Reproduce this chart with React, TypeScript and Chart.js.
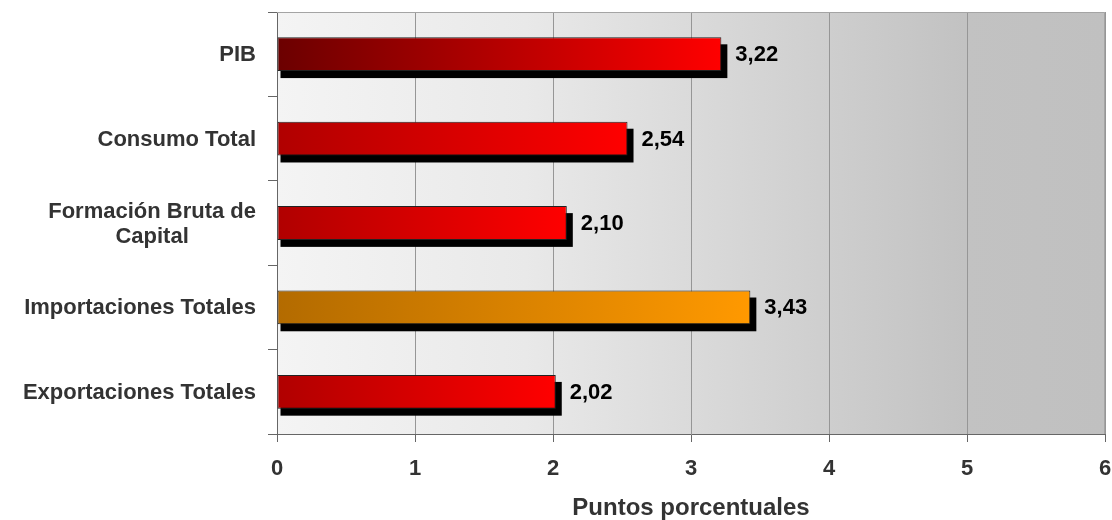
import React, { useEffect, useRef } from "react";
import { Chart, registerables } from "chart.js";

Chart.register(...registerables);

const categories: (string | string[])[] = [
  "PIB",
  "Consumo Total",
  ["Formación Bruta de", "Capital"],
  "Importaciones Totales",
  "Exportaciones Totales",
];
const values = [3.22, 2.54, 2.1, 3.43, 2.02];
const barStartColors = ["#6b0000", "#b00000", "#b00000", "#b36b00", "#b00000"];
const barEndColors = ["#ff0000", "#ff0000", "#ff0000", "#ff9900", "#ff0000"];
const xMin = 0;
const xMax = 6;
const xStep = 1;
const xTitle = "Puntos porcentuales";

const FONT = "'Liberation Sans', Arial, sans-serif";

const fmt = (v: number) => v.toFixed(2).replace(".", ",");

const backgroundPlugin = {
  id: "plotBg",
  beforeDraw(chart: any) {
    const { ctx, chartArea } = chart;
    if (!chartArea) return;
    const g = ctx.createLinearGradient(chartArea.left, 0, chartArea.right, 0);
    g.addColorStop(0, "#f4f4f4");
    g.addColorStop(0.3, "#e9e9e9");
    g.addColorStop(0.6, "#d3d3d3");
    g.addColorStop(0.83, "#c2c2c2");
    g.addColorStop(1, "#c0c0c0");
    ctx.save();
    ctx.fillStyle = g;
    ctx.fillRect(chartArea.left, chartArea.top, chartArea.right - chartArea.left, chartArea.bottom - chartArea.top);
    ctx.restore();
  },
  afterDraw(chart: any) {
    const { ctx, chartArea } = chart;
    ctx.save();
    ctx.strokeStyle = "#a4a4a4";
    ctx.lineWidth = 1;
    ctx.beginPath();
    ctx.moveTo(chartArea.left, chartArea.top + 0.5);
    ctx.lineTo(chartArea.right - 0.5, chartArea.top + 0.5);
    ctx.lineTo(chartArea.right - 0.5, chartArea.bottom);
    ctx.stroke();
    ctx.restore();
  },
};

const shadowPlugin = {
  id: "barShadow",
  beforeDatasetsDraw(chart: any) {
    const { ctx } = chart;
    const meta = chart.getDatasetMeta(0);
    ctx.save();
    ctx.fillStyle = "#000000";
    meta.data.forEach((bar: any) => {
      const { x, y, base, height } = bar.getProps(["x", "y", "base", "height"], true);
      ctx.fillRect(base + 3, y - height / 2 + 7, x - base + 3, height);
    });
    ctx.restore();
  },
};

const valueLabelPlugin = {
  id: "valueLabels",
  afterDatasetsDraw(chart: any) {
    const { ctx } = chart;
    const meta = chart.getDatasetMeta(0);
    ctx.save();
    ctx.font = `bold 22px ${FONT}`;
    ctx.fillStyle = "#000000";
    ctx.textAlign = "left";
    ctx.textBaseline = "middle";
    meta.data.forEach((bar: any, i: number) => {
      const { x, y } = bar.getProps(["x", "y"], true);
      ctx.fillText(fmt(values[i]), x + 14, y + 1);
    });
    ctx.restore();
  },
};

const yLabelPlugin = {
  id: "yLabels",
  afterDraw(chart: any) {
    const { ctx } = chart;
    const ys = chart.scales.y;
    const right = ys.right - 21;
    const lh = 25;
    ctx.save();
    ctx.font = `bold 22px ${FONT}`;
    ctx.fillStyle = "#333333";
    ctx.textAlign = "center";
    ctx.textBaseline = "middle";
    categories.forEach((c, i) => {
      const lines = Array.isArray(c) ? c : [c];
      const yc = ys.getPixelForValue(i) + 1;
      const maxW = Math.max(...lines.map((l) => ctx.measureText(l).width));
      const cx = right - maxW / 2;
      const startY = yc - ((lines.length - 1) * lh) / 2;
      lines.forEach((l, j) => ctx.fillText(l, cx, startY + j * lh));
    });
    ctx.restore();
  },
};

export default function App() {
  const ref = useRef<HTMLCanvasElement | null>(null);

  useEffect(() => {
    if (!ref.current) return;
    const chart = new Chart(ref.current, {
      type: "bar",
      data: {
        labels: categories as any,
        datasets: [
          {
            data: values,
            backgroundColor: (c: any) => {
              const chart = c.chart;
              const i = c.dataIndex;
              const xs = chart.scales?.x;
              if (!chart.chartArea || !xs || i === undefined) return barEndColors[i ?? 0];
              const x0 = xs.getPixelForValue(0);
              const x1 = xs.getPixelForValue(values[i]);
              const g = chart.ctx.createLinearGradient(x0, 0, x1, 0);
              g.addColorStop(0, barStartColors[i]);
              g.addColorStop(1, barEndColors[i]);
              return g;
            },
            borderColor: "#222222",
            borderWidth: 1,
            borderSkipped: false,
            barPercentage: 0.4,
            categoryPercentage: 1,
          },
        ],
      },
      options: {
        indexAxis: "y",
        animation: false,
        responsive: false,
        layout: { padding: { top: 12, right: 0, left: 0, bottom: 0 } },
        plugins: {
          legend: { display: false },
          tooltip: { enabled: false },
        },
        scales: {
          y: {
            type: "category",
            afterFit: (s: any) => {
              s.width = 277;
            },
            grid: {
              offset: true,
              drawOnChartArea: false,
              tickLength: 9,
              color: "#666666",
            },
            border: { color: "#666666" },
            ticks: { display: false },
          },
          x: {
            type: "linear",
            min: xMin,
            max: xMax,
            afterFit: (s: any) => {
              s.height = 86;
              s.paddingRight = 7;
            },
            ticks: {
              stepSize: xStep,
              padding: 14,
              color: "#333333",
              font: { family: FONT, size: 22, weight: "bold" },
            },
            grid: {
              color: "#969696",
              tickLength: 8,
              tickColor: "#666666",
            },
            border: { color: "#666666" },
            title: {
              display: true,
              text: xTitle,
              color: "#333333",
              font: { family: FONT, size: 24, weight: "bold", lineHeight: 1 },
              padding: { top: 0, bottom: 0 },
            },
          },
        },
      },
      plugins: [backgroundPlugin, shadowPlugin, valueLabelPlugin, yLabelPlugin],
    } as any);
    return () => chart.destroy();
  }, []);

  return (
    <div style={{ position: "absolute", left: 0, top: 0, width: 1112, height: 520 }}>
      <canvas ref={ref} width={1112} height={520} />
    </div>
  );
}
